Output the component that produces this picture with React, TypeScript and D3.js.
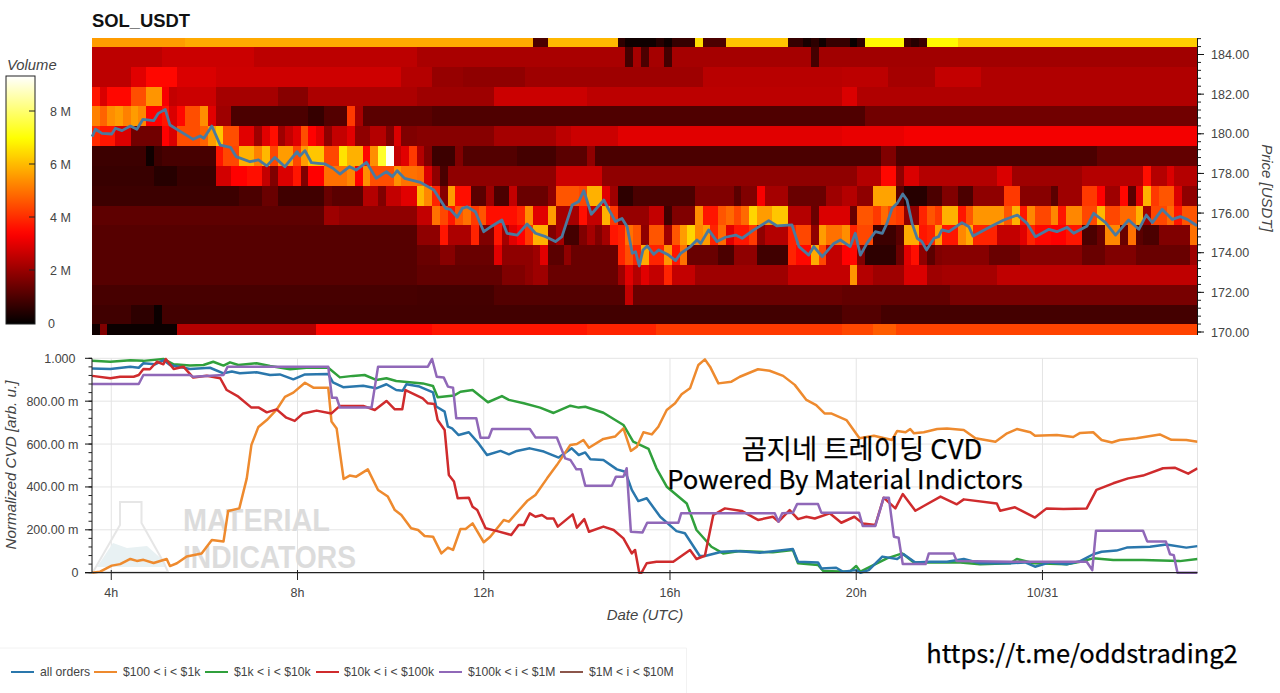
import React from "react";
import * as d3 from "d3";

type Run = [number, number];
type Pt = [number, number];

// Volume per price bin (millions), run-length: [number of 10-min columns, value]
const bin185: Run[] = [[12,5.6],[45,5.8],[2,1.0],[9,6.0],[1,.6],[4,.2],[1,.5],[1,.2],[3,.7],[1,6.5],[3,1.0],[8,6.15],[2,.7],[1,.3],[1,.6],[1,.2],[3,.7],[1,.1],[1,.6],[5,6.9],[1,.8],[1,.5],[1,.8],[4,6.9],[31,6.3]];
const bin184: Run[] = [[9,2.5],[12,2.7],[21,2.5],[27,2.25],[1,.9],[1,2.2],[1,1.0],[2,2.2],[1,.9],[18,2.2],[1,.9],[49,2.15]];
const bin183: Run[] = [[5,2.5],[2,3.0],[4,3.5],[5,2.9],[24,2.75],[4,2.4],[4,2.0],[8,1.9],[23,2.1],[18,2.45],[6,2.5],[6,2.2],[6,2.6],[28,2.35]];
const bin182: Run[] = [[1,3.7],[1,2.9],[3,3.5],[2,4.5],[2,5.5],[1,3.3],[1,2.6],[5,2.7],[8,2.2],[4,1.8],[14,2.3],[10,2.1],[12,2.7],[33,2.5],[2,2.9],[44,2.35]];
const bin181: Run[] = [[1,5.2],[1,4.8],[1,5.4],[1,5.6],[1,5.2],[1,5.6],[1,5.3],[2,3.4],[1,3.7],[1,2.9],[1,3.5],[2,4.5],[1,5.4],[1,3.0],[2,2.1],[10,1.0],[2,.7],[3,1.1],[1,4.2],[1,2.2],[9,1.2],[56,1.05],[43,1.5]];
const bin180: Run[] = [[1,4.0],[2,3.7],[2,2.9],[4,1.5],[1,3.4],[1,2.9],[3,4.5],[1,4.8],[1,5.6],[1,6.2],[2,4.5],[2,3.0],[1,2.1],[1,3.0],[1,3.6],[1,2.1],[1,2.6],[1,3.0],[1,4.5],[1,3.4],[1,3.0],[1,1.9],[2,2.6],[1,3.0],[2,1.9],[2,2.4],[1,1.7],[1,2.9],[2,1.7],[10,1.8],[8,2.2],[2,2.5],[6,2.7],[29,3.0],[8,3.1],[38,3.25]];
const bin179: Run[] = [[7,.8],[1,.2],[1,.8],[7,.95],[1,3.7],[2,4.4],[2,5.9],[1,5.2],[1,6.0],[1,4.4],[2,5.6],[1,4.4],[1,5.6],[2,6.2],[2,4.4],[1,6.6],[2,5.9],[1,3.5],[1,5.4],[1,7.4],[1,9.3],[1,2.6],[1,3.0],[1,4.2],[1,2.4],[1,1.7],[3,.8],[1,1.7],[7,1.1],[5,.9],[4,1.2],[1,1.9],[37,1.0],[2,1.7],[26,1.0],[13,1.3]];
const bin178: Run[] = [[8,.75],[3,.5],[5,.75],[2,2.8],[2,3.4],[2,3.6],[1,2.6],[1,1.7],[2,2.9],[1,3.7],[1,1.7],[2,3.4],[3,5.0],[1,5.3],[1,3.4],[1,5.4],[3,4.5],[1,5.4],[2,5.0],[1,4.9],[1,2.9],[1,1.9],[1,1.0],[14,1.9],[6,2.7],[33,1.9],[3,2.4],[2,3.5],[1,1.9],[2,2.9],[10,2.4],[2,2.9],[9,2.1],[8,2.4],[1,3.6],[2,2.4],[1,2.9],[3,2.4]];
const bin177: Run[] = [[19,.8],[3,1.0],[2,1.4],[6,.85],[1,1.4],[4,1.2],[2,2.4],[1,1.7],[2,2.6],[2,3.0],[1,6.0],[1,5.3],[1,3.9],[1,1.8],[1,5.6],[2,3.6],[2,1.2],[1,2.1],[2,1.0],[1,2.6],[4,1.4],[1,1.9],[3,4.6],[1,4.4],[2,5.9],[1,3.0],[1,2.1],[2,.6],[8,1.0],[5,1.7],[1,1.2],[2,1.7],[1,3.3],[3,2.2],[5,1.4],[2,2.1],[2,2.4],[2,1.9],[3,5.7],[1,1.2],[3,.5],[2,1.0],[2,1.7],[2,1.0],[4,1.9],[2,4.2],[4,1.8],[1,1.2],[3,2.1],[2,4.2],[1,3.4],[2,2.1],[1,3.5],[1,1.2],[1,3.0],[1,5.9],[1,4.2],[2,4.6],[1,2.9],[2,1.9]];
const bin176: Run[] = [[30,1.25],[2,2.1],[10,1.9],[2,2.6],[1,5.0],[1,4.4],[1,3.7],[1,4.6],[1,5.0],[1,4.2],[1,4.6],[4,3.6],[1,3.9],[1,5.4],[2,3.0],[1,5.6],[3,2.2],[1,3.6],[2,2.6],[1,5.9],[1,4.2],[4,2.0],[2,2.6],[1,.85],[3,1.7],[1,5.4],[2,3.7],[1,4.6],[1,4.9],[1,4.4],[1,4.9],[1,6.4],[2,5.6],[2,6.2],[3,2.4],[1,1.4],[3,2.9],[1,2.9],[1,1.4],[2,4.6],[1,4.2],[1,4.9],[1,4.4],[1,4.2],[2,1.9],[1,3.9],[1,4.6],[1,4.2],[2,5.9],[1,3.7],[1,4.6],[4,5.5],[1,4.6],[1,5.9],[1,3.7],[1,5.3],[2,4.4],[1,5.3],[1,3.7],[2,5.3],[2,4.4],[1,6.0],[2,4.4],[2,4.9],[1,5.9],[1,2.1],[2,4.4],[1,4.9],[1,3.7],[2,4.6]];
const bin175: Run[] = [[42,1.15],[3,1.9],[1,3.7],[3,2.3],[1,3.9],[2,1.7],[1,3.7],[1,2.2],[1,3.0],[1,3.4],[1,4.2],[2,5.9],[1,1.7],[1,2.2],[2,.9],[1,1.7],[1,2.2],[1,1.7],[1,2.2],[1,3.7],[1,3.9],[1,5.0],[1,4.6],[1,1.9],[2,4.6],[1,2.1],[1,4.6],[1,5.6],[1,6.4],[1,5.3],[1,5.6],[1,3.9],[1,4.9],[1,3.0],[2,3.7],[1,4.2],[1,1.9],[3,2.4],[1,3.9],[2,4.4],[1,1.9],[1,5.6],[2,5.0],[1,5.4],[1,3.9],[2,4.4],[3,.8],[1,1.2],[2,5.8],[1,3.7],[1,3.9],[1,5.6],[2,3.7],[1,5.3],[1,5.8],[3,3.9],[3,2.6],[1,3.0],[1,3.9],[2,3.5],[2,3.4],[2,3.7],[2,1.0],[1,1.4],[2,5.3],[1,1.4],[1,5.0],[1,1.2],[2,1.0],[3,1.7],[1,1.7],[1,5.0]];
const bin174: Run[] = [[42,1.15],[3,1.4],[2,1.8],[5,1.4],[1,3.0],[4,1.9],[1,2.1],[1,3.0],[2,1.2],[1,1.9],[6,1.4],[1,3.9],[1,4.5],[1,3.9],[1,5.8],[2,3.9],[1,5.5],[1,3.7],[1,5.0],[4,1.4],[2,1.0],[3,1.9],[4,.85],[1,3.9],[2,3.5],[1,5.8],[1,4.4],[2,2.6],[1,3.4],[1,3.5],[1,1.7],[4,.6],[1,1.4],[1,3.0],[1,3.6],[1,1.9],[1,1.2],[1,1.7],[6,1.8],[4,1.4],[8,1.8],[3,1.4],[4,1.7],[7,1.4],[1,2.1]];
const bin173: Run[] = [[42,1.15],[11,1.3],[3,1.7],[1,1.9],[2,2.1],[9,1.4],[1,2.1],[1,3.0],[1,2.4],[1,3.0],[2,2.6],[1,3.9],[3,2.6],[12,2.1],[8,2.6],[1,5.5],[2,2.4],[4,2.1],[3,2.9],[2,2.1],[7,2.2],[26,2.55]];
const bin172: Run[] = [[42,.95],[10,.9],[17,1.1],[1,2.6],[27,1.4],[14,1.3],[32,1.6]];
const bin171: Run[] = [[5,.85],[3,.6],[1,.15],[88,.88],[5,1.1],[41,.9]];
const bin170: Run[] = [[1,.2],[1,1.7],[9,.15],[18,2.4],[15,3.5],[20,3.7],[9,3.9],[24,4.2],[4,4.4],[3,4.7],[39,4.35]];

const priceBins: [number, Run[]][] = [[185,bin185],[184,bin184],[183,bin183],[182,bin182],[181,bin181],[180,bin180],[179,bin179],[178,bin178],[177,bin177],[176,bin176],[175,bin175],[174,bin174],[173,bin173],[172,bin172],[171,bin171],[170,bin170]];

// Price line [hour, USDT]
const price: Pt[] = [[3.59,179.86],[3.66,180.23],[3.8,180.02],[4.01,179.99],[4.09,180.28],[4.23,180.16],[4.41,180.39],[4.55,180.23],[4.68,180.73],[4.91,180.66],[5.01,181.03],[5.16,181.23],[5.26,180.44],[5.55,180.02],[5.76,179.72],[5.91,179.89],[5.99,179.77],[6.16,180.39],[6.34,179.43],[6.49,179.35],[6.56,179.32],[6.68,178.85],[6.98,178.59],[7.16,178.68],[7.34,178.38],[7.51,178.81],[7.73,178.34],[7.99,179.1],[8.05,178.88],[8.16,179.15],[8.3,178.54],[8.44,178.51],[8.59,178.48],[8.76,178.26],[8.91,177.97],[9.12,178.34],[9.26,178.17],[9.48,178.56],[9.69,177.75],[9.91,178.09],[10.04,177.84],[10.14,178.14],[10.3,177.75],[10.64,177.55],[10.93,177.16],[11.18,176.24],[11.28,176.19],[11.43,175.79],[11.54,176.24],[11.64,176.32],[11.82,176.07],[12,175.06],[12.18,175.35],[12.39,175.65],[12.5,174.98],[12.72,174.89],[12.93,175.45],[13.11,174.98],[13.33,174.81],[13.54,174.56],[13.68,174.81],[13.9,176.41],[14.04,176.58],[14.15,177.13],[14.31,175.94],[14.58,176.66],[14.69,176.16],[14.83,175.57],[14.97,175.73],[15.08,175.31],[15.19,173.97],[15.26,174.05],[15.34,173.33],[15.42,174.14],[15.51,174.34],[15.65,173.92],[15.76,174.14],[15.97,173.88],[16.12,173.6],[16.23,173.97],[16.44,174.31],[16.58,174.64],[16.66,174.47],[16.83,175.15],[17.01,174.56],[17.19,174.78],[17.41,174.89],[17.55,174.73],[17.8,175.15],[18.12,175.62],[18.3,175.35],[18.62,175.4],[18.77,174.31],[18.98,173.88],[19.09,174.31],[19.27,173.8],[19.52,174.47],[19.66,174.64],[19.87,174.31],[19.98,174.98],[20.09,173.88],[20.23,174.47],[20.41,175.06],[20.56,174.98],[20.66,175.48],[20.77,176.24],[20.88,176.49],[21,176.96],[21.09,176.66],[21.2,175.48],[21.31,174.73],[21.41,174.56],[21.51,174.14],[21.67,174.73],[21.77,174.81],[21.84,175.15],[21.99,175.06],[22.27,175.52],[22.42,175.31],[22.51,174.84],[22.88,175.31],[23.17,175.65],[23.46,175.9],[23.67,175.48],[23.85,174.81],[24.14,175.18],[24.31,175.06],[24.53,175.28],[24.67,174.98],[24.96,175.35],[25.1,175.99],[25.35,175.53],[25.57,174.89],[25.85,175.65],[26.07,175.18],[26.23,175.9],[26.36,175.52],[26.57,176.19],[26.79,175.68],[26.96,175.82],[27.11,175.68],[27.32,175.36]];

// Normalized CVD [hour, value]
const cvdAll: Pt[] = [[3.59,.953],[3.98,.95],[4.41,.961],[4.59,.956],[4.69,.977],[4.94,.972],[5.12,.992],[5.26,.969],[5.69,.95],[6.12,.956],[6.41,.93],[6.59,.938],[6.76,.93],[7.12,.935],[7.41,.922],[7.62,.925],[7.91,.902],[8.16,.925],[8.66,.927],[8.76,.888],[8.98,.865],[9.41,.872],[9.69,.86],[9.91,.879],[10.12,.852],[10.26,.849],[10.34,.879],[10.62,.868],[10.91,.841],[10.98,.775],[11.16,.751],[11.23,.681],[11.32,.673],[11.46,.642],[11.68,.655],[11.89,.603],[12.07,.549],[12.36,.568],[12.54,.552],[12.71,.568],[12.99,.58],[13.29,.565],[13.61,.537],[13.89,.58],[14.04,.549],[14.18,.561],[14.29,.529],[14.57,.526],[14.86,.482],[15.04,.471],[15.18,.386],[15.32,.334],[15.5,.347],[15.79,.261],[16.14,.194],[16.32,.184],[16.64,.078],[16.75,.078],[17.11,.098],[17.43,.101],[17.93,.093],[18.64,.11],[18.75,.051],[19.18,.048],[19.25,.02],[19.57,.023],[19.71,.005],[20,.012],[20.09,0],[20.27,.012],[20.56,.075],[20.88,.064],[21.02,.086],[21.27,.048],[21.59,.051],[21.95,.051],[22.31,.064],[22.66,.044],[23.31,.044],[23.63,.048],[23.84,.028],[24.16,.048],[24.52,.039],[24.81,.054],[25.09,.086],[25.27,.098],[25.59,.103],[25.81,.117],[26.31,.121],[26.66,.132],[27.09,.117],[27.33,.124]];
const cvd100to1k: Pt[] = [[3.59,0],[3.76,.005],[4.01,.033],[4.19,.04],[4.41,.064],[4.55,.055],[4.69,.06],[4.91,.045],[5.19,.064],[5.26,.031],[5.41,.044],[5.62,.076],[5.94,.09],[6.16,.152],[6.41,.145],[6.51,.288],[6.75,.3],[6.91,.44],[7.01,.596],[7.16,.68],[7.34,.712],[7.55,.76],[7.73,.82],[7.91,.84],[8.16,.886],[8.34,.863],[8.66,.863],[8.73,.705],[8.84,.673],[8.99,.437],[9.12,.453],[9.26,.448],[9.51,.482],[9.73,.386],[9.94,.355],[10.09,.292],[10.23,.269],[10.44,.207],[10.59,.199],[10.73,.171],[10.91,.168],[11.09,.09],[11.23,.117],[11.34,.106],[11.5,.204],[11.61,.204],[11.76,.23],[12,.142],[12.14,.168],[12.43,.246],[12.54,.238],[12.93,.334],[13.11,.362],[13.36,.44],[13.57,.502],[13.86,.596],[14,.6],[14.14,.619],[14.26,.583],[14.57,.624],[14.82,.635],[15,.673],[15.16,.568],[15.29,.588],[15.43,.655],[15.61,.645],[15.75,.681],[15.93,.759],[16.11,.79],[16.25,.832],[16.43,.86],[16.61,.969],[16.75,.995],[16.86,.961],[17.04,.883],[17.32,.891],[17.5,.914],[17.89,.949],[18.14,.942],[18.43,.918],[18.68,.876],[18.93,.806],[19.14,.782],[19.32,.743],[19.46,.743],[19.79,.712],[20.07,.627],[20.38,.639],[20.77,.619],[20.88,.661],[21.06,.655],[21.16,.67],[21.24,.65],[21.45,.655],[21.74,.67],[21.95,.673],[22.31,.666],[22.56,.627],[22.99,.611],[23.24,.65],[23.45,.67],[23.74,.655],[23.84,.639],[24.31,.642],[24.66,.633],[24.81,.652],[25.09,.655],[25.27,.619],[25.49,.607],[25.66,.619],[26.02,.627],[26.52,.645],[26.77,.62],[27.09,.619],[27.33,.611]];
const cvd1kto10k: Pt[] = [[3.59,.988],[3.98,.984],[4.41,.991],[4.69,.988],[5.12,.997],[5.34,.972],[5.69,.966],[5.98,.969],[6.19,.984],[6.41,.966],[6.55,.981],[6.73,.969],[7.12,.977],[7.41,.964],[7.84,.949],[8.19,.956],[8.66,.956],[8.91,.911],[9.19,.918],[9.44,.922],[9.69,.899],[9.91,.907],[10.12,.894],[10.69,.883],[10.91,.871],[11.01,.818],[11.36,.826],[11.5,.844],[11.76,.852],[12.09,.795],[12.39,.824],[12.54,.806],[12.86,.79],[13.21,.77],[13.5,.745],[13.86,.779],[14.04,.77],[14.18,.774],[14.57,.746],[15,.689],[15.21,.611],[15.54,.577],[15.71,.487],[15.93,.401],[16.36,.323],[16.57,.199],[16.89,.121],[17.14,.09],[17.5,.101],[18.21,.095],[18.64,.106],[18.75,.044],[19.18,.036],[19.29,.008],[19.86,.005],[20,.031],[20.09,.005],[20.38,.036],[20.66,.067],[20.99,.09],[21.24,.048],[22.24,.048],[22.66,.039],[23.31,.044],[23.45,.064],[23.81,.044],[24.52,.039],[24.81,.051],[25.09,.067],[25.52,.059],[26.16,.059],[26.95,.054],[27.33,.064]];
const cvd10kto100k: Pt[] = [[3.59,.918],[3.98,.907],[4.19,.914],[4.48,.914],[4.59,.922],[4.69,.95],[4.83,.949],[4.98,.984],[5.12,.972],[5.17,.997],[5.34,.95],[5.55,.961],[5.76,.91],[6.05,.919],[6.34,.907],[6.48,.852],[6.73,.821],[7.01,.77],[7.16,.771],[7.34,.748],[7.55,.762],[7.76,.723],[7.94,.708],[8.12,.743],[8.41,.756],[8.73,.743],[8.91,.778],[9.41,.778],[9.66,.759],[9.91,.801],[10.09,.762],[10.25,.762],[10.32,.852],[10.69,.813],[10.8,.79],[10.94,.787],[11.01,.712],[11.16,.666],[11.25,.456],[11.36,.425],[11.44,.347],[11.68,.35],[11.76,.308],[11.86,.292],[12.04,.207],[12.29,.194],[12.59,.176],[12.75,.222],[12.86,.222],[12.99,.277],[13.11,.261],[13.25,.269],[13.36,.253],[13.5,.253],[13.59,.215],[13.91,.272],[14,.21],[14.16,.25],[14.26,.191],[14.57,.215],[14.79,.199],[15,.16],[15.18,.09],[15.25,.106],[15.34,0],[15.39,0],[15.5,.044],[15.71,.051],[16.07,.051],[16.43,.106],[16.57,.064],[16.75,.079],[16.93,.269],[17.18,.3],[17.54,.288],[17.89,.246],[18.21,.261],[18.33,.238],[18.57,.292],[18.75,.25],[18.93,.261],[19.11,.253],[19.43,.277],[19.68,.233],[19.96,.261],[20.14,.23],[20.41,.222],[20.59,.35],[20.84,.3],[21,.367],[21.27,.289],[21.45,.311],[21.81,.355],[22.16,.319],[22.31,.342],[23.02,.323],[23.09,.289],[23.41,.305],[23.84,.257],[24.09,.3],[24.45,.297],[24.95,.3],[25.16,.386],[25.52,.417],[25.84,.44],[26.16,.453],[26.59,.487],[26.84,.49],[27.13,.462],[27.33,.487]];
const cvd100kto1M: Pt[] = [[3.59,.88],[4.59,.88],[4.69,.922],[5.69,.922],[5.76,.914],[6.41,.922],[6.5,.961],[8.66,.961],[8.74,.816],[8.84,.816],[8.91,.77],[9.59,.77],[9.73,.961],[10.8,.961],[10.89,.997],[10.99,.914],[11.14,.911],[11.23,.868],[11.34,.863],[11.41,.72],[11.84,.72],[11.93,.63],[12.11,.63],[12.18,.67],[12.99,.67],[13.11,.631],[13.57,.631],[13.75,.533],[13.86,.526],[13.99,.482],[14.09,.482],[14.18,.406],[14.75,.406],[14.84,.448],[15,.448],[15.07,.487],[15.16,.191],[15.41,.188],[15.51,.233],[16.18,.233],[16.24,.277],[18.25,.277],[18.33,.238],[18.41,.277],[18.64,.28],[18.73,.32],[19.18,.32],[19.25,.28],[20.06,.28],[20.14,.218],[20.41,.218],[20.59,.35],[20.7,.35],[20.81,.168],[20.91,.163],[21,.04],[21.49,.04],[21.56,.09],[22.09,.09],[22.16,.054],[23.34,.051],[24.95,.051],[25.07,.012],[25.15,.196],[26.16,.196],[26.25,.146],[26.65,.146],[26.74,.086],[26.82,.082],[26.9,0],[27.33,0]];
const cvd1Mto10M: Pt[] = [];

const seriesNames = ["all orders", "$100 < i < $1k", "$1k < i < $10k", "$10k < i < $100k", "$100k < i < $1M", "$1M < i < $10M"];
const seriesColors = ["#2a77ac", "#ee8a2e", "#30a03c", "#cf2b2d", "#9068b8", "#8c564b"];
const seriesData = [cvdAll, cvd100to1k, cvd1kto10k, cvd10kto100k, cvd100kto1M, cvd1Mto10M];
const drawOrder = [2, 0, 1, 3, 4, 5];
const legendX = [[11, 34, 40], [94, 117, 123], [205, 228, 234], [316, 339, 344], [439, 462, 468], [560, 583, 589]];

const priceTicks = [170, 172, 174, 176, 178, 180, 182, 184];
const volumeTicks = [0, 2, 4, 6, 8];
const cvdTicks = [0, .2, .4, .6, .8, 1];
const cvdTickLabels = ["0", "200.00 m", "400.00 m", "600.00 m", "800.00 m", "1.000"];
const hourTicks = [4, 8, 12, 16, 20, 24];
const hourLabels = ["4h", "8h", "12h", "16h", "20h", "10/31"];
const colorDomain = [0, 3.4, 7, 9.36];
const colorRange = ["#000000", "#ff0000", "#ffff00", "#ffffff"];

const W = 1280, H = 693;
const L = 92, R = 1197.5;
const sans = "'Liberation Sans', Arial, sans-serif";
const cjk = "'Noto Sans CJK KR', 'Noto Sans', sans-serif";
const grey = "#444";

const hourStart = 3.586, hourEnd = 27.33, nCols = 143;
const x = d3.scaleLinear().domain([hourStart, hourEnd]).range([L, R]);
const yPrice = d3.scaleLinear().domain([170, 184]).range([332, 54.5]);
const yCvd = d3.scaleLinear().domain([0, 1]).range([572.7, 358.3]);
const color = d3.scaleLinear<string>().domain(colorDomain).range(colorRange).clamp(true);
const yBar = d3.scaleLinear().domain([0, 8]).range([323, 111]);
const barTop = 76, barBottom = 324;

export default function App() {
  const heatTop = 38, heatBottom = 335;
  const colW = (R - L) / nCols;
  const cells: React.ReactElement[] = [];
  priceBins.forEach(([p, runs]) => {
    const y0 = Math.max(yPrice(p + 0.38), heatTop);
    const y1 = Math.min(yPrice(p - 0.62), heatBottom);
    let col = 0;
    runs.forEach(([n, v], k) => {
      cells.push(<rect key={`${p}-${k}`} x={L + col * colW} y={y0} width={n * colW + 0.4} height={y1 - y0 + 0.4} fill={color(v)} />);
      col += n;
    });
  });
  const priceLine = d3.line<Pt>().x(d => x(d[0])).y(d => yPrice(d[1]))(price) || "";
  const cvdLine = d3.line<Pt>().x(d => x(d[0])).y(d => yCvd(d[1]));
  const priceMinor = d3.range(170, 184.9, 0.4);
  const cvdMinor = d3.range(0, 1.001, 0.04);
  const stops = d3.range(0, 41).map(i => (i / 40) * 9.36);

  return (
    <svg width={W} height={H} viewBox={`0 0 ${W} ${H}`} style={{ position: "absolute", left: 0, top: 0, background: "#fff" }}>
      <defs>
        <linearGradient id="hot" x1="0" y1="1" x2="0" y2="0">
          {stops.map((v, i) => <stop key={i} offset={v / 9.36} stopColor={color(v)} />)}
        </linearGradient>
        <clipPath id="cvdclip"><rect x={L} y={355} width={R - L} height={220} /></clipPath>
      </defs>

      <text x={L} y={27} fontFamily={sans} fontWeight="bold" fontSize={18.4} fill="#111">SOL_USDT</text>

      {/* colour bar */}
      <text x={7} y={70} fontFamily={sans} fontStyle="italic" fontSize={14.8} fill={grey}>Volume</text>
      <rect x={6} y={barTop} width={29} height={barBottom - barTop} fill="url(#hot)" stroke="#222" strokeWidth={1} />
      {volumeTicks.map(t => (
        <g key={t}>
          {t > 0 && <line x1={29} x2={35} y1={yBar(t)} y2={yBar(t)} stroke="#222" strokeWidth={1} />}
          <text x={t === 0 ? 48 : 50} y={yBar(t) + 4.5} fontFamily={sans} fontSize={12.5} fill={grey}>{t === 0 ? "0" : `${t} M`}</text>
        </g>
      ))}

      {/* heat map */}
      <g shapeRendering="crispEdges">{cells}</g>
      <path d={priceLine} fill="none" stroke="#4a7a9f" strokeWidth={2.8} strokeLinejoin="round" />

      {/* price axis */}
      <line x1={R} x2={R} y1={38} y2={335} stroke="#111" strokeWidth={1} />
      {priceMinor.map(t => <line key={t} x1={R} x2={R + 3.5} y1={yPrice(t)} y2={yPrice(t)} stroke="#222" strokeWidth={1} />)}
      {priceTicks.map(t => (
        <g key={t}>
          <line x1={R} x2={R + 6.5} y1={yPrice(t)} y2={yPrice(t)} stroke="#111" strokeWidth={1} />
          <text x={1211} y={yPrice(t) + 4.5} fontFamily={sans} fontSize={12.5} fill={grey}>{t.toFixed(2)}</text>
        </g>
      ))}
      <text transform="translate(1262,188) rotate(90)" textAnchor="middle" fontFamily={sans} fontStyle="italic" fontSize={15} fill={grey}>Price [USDT]</text>

      {/* CVD panel grid */}
      <line x1={L} x2={R} y1={358.3} y2={358.3} stroke="#e4e4e4" />
      <line x1={R} x2={R} y1={358.3} y2={572.7} stroke="#e4e4e4" />
      {cvdTicks.slice(1, 5).map(t => <line key={t} x1={L} x2={R} y1={yCvd(t)} y2={yCvd(t)} stroke="#e4e4e4" />)}
      {hourTicks.map(t => <line key={t} x1={x(t)} x2={x(t)} y1={358.3} y2={572.7} stroke="#e4e4e4" />)}

      {/* watermark */}
      <g>
        <path d="M97 567 L113 543 L127 548 L147 546 L165 562 L166 567 Z" fill="#e8f1f3" />
        <path d="M120 502 H141.5 V523 L164 563 L168 572 H93 L120 525 Z" fill="none" stroke="#e6e6e6" strokeWidth={2} />
        <text x={183} y={531} fontFamily={sans} fontWeight="bold" fontSize={32} fill="#dcdcdc" textLength={147} lengthAdjust="spacingAndGlyphs">MATERIAL</text>
        <text x={183} y={568} fontFamily={sans} fontWeight="bold" fontSize={32} fill="#dcdcdc" textLength={173} lengthAdjust="spacingAndGlyphs">INDICATORS</text>
      </g>

      {/* CVD lines */}
      <g clipPath="url(#cvdclip)" fill="none" strokeWidth={2.5} strokeLinejoin="round">
        {drawOrder.map(i => seriesData[i].length > 0 && <path key={i} d={cvdLine(seriesData[i]) || ""} stroke={seriesColors[i]} />)}
      </g>

      {/* CVD axes */}
      <line x1={L} x2={L} y1={358.3} y2={572.7} stroke="#111" />
      <line x1={L - 7} x2={R} y1={572.7} y2={572.7} stroke="#222" strokeWidth={1.2} />
      {cvdMinor.map(t => <line key={t} x1={L - 3.5} x2={L} y1={yCvd(t)} y2={yCvd(t)} stroke="#222" />)}
      {cvdTicks.map((t, i) => (
        <g key={t}>
          <line x1={L - 7} x2={L} y1={yCvd(t)} y2={yCvd(t)} stroke="#111" />
          <text x={i === 5 ? 75.5 : 78.5} y={yCvd(t) + 4.5} textAnchor="end" fontFamily={sans} fontSize={12.5} fill={grey}>{cvdTickLabels[i]}</text>
        </g>
      ))}
      {hourTicks.map((t, i) => (
        <g key={t}>
          <line x1={x(t)} x2={x(t)} y1={570} y2={580} stroke="#222" />
          <text x={x(t)} y={597} textAnchor="middle" fontFamily={sans} fontSize={12.5} fill={grey}>{hourLabels[i]}</text>
        </g>
      ))}
      <text x={645} y={620} textAnchor="middle" fontFamily={sans} fontStyle="italic" fontSize={15} fill={grey}>Date (UTC)</text>
      <text transform="translate(16,465) rotate(-90)" textAnchor="middle" fontFamily={sans} fontStyle="italic" fontSize={15.2} fill={grey}>Normalized CVD [arb. u.]</text>

      {/* annotation */}
      <g fontFamily={cjk} fill="#000" stroke="#000" strokeWidth={0.25} textAnchor="middle">
        <text x={862} y={459} fontSize={27.4}>곰지네 트레이딩 CVD</text>
        <text x={845} y={489} fontSize={25.7}>Powered By Material Indictors</text>
        <text x={1082} y={663} fontSize={25.5}>https://t.me/oddstrading2</text>
      </g>

      {/* legend */}
      <path d="M0 648 H686.5 V693" fill="none" stroke="#f2f2f2" />
      {seriesNames.map((name, i) => (
        <g key={name}>
          <line x1={legendX[i][0]} x2={legendX[i][1]} y1={672} y2={672} stroke={seriesColors[i]} strokeWidth={2} />
          <text x={legendX[i][2]} y={676} fontFamily={sans} fontSize={12.2} fill={grey}>{name}</text>
        </g>
      ))}
    </svg>
  );
}
